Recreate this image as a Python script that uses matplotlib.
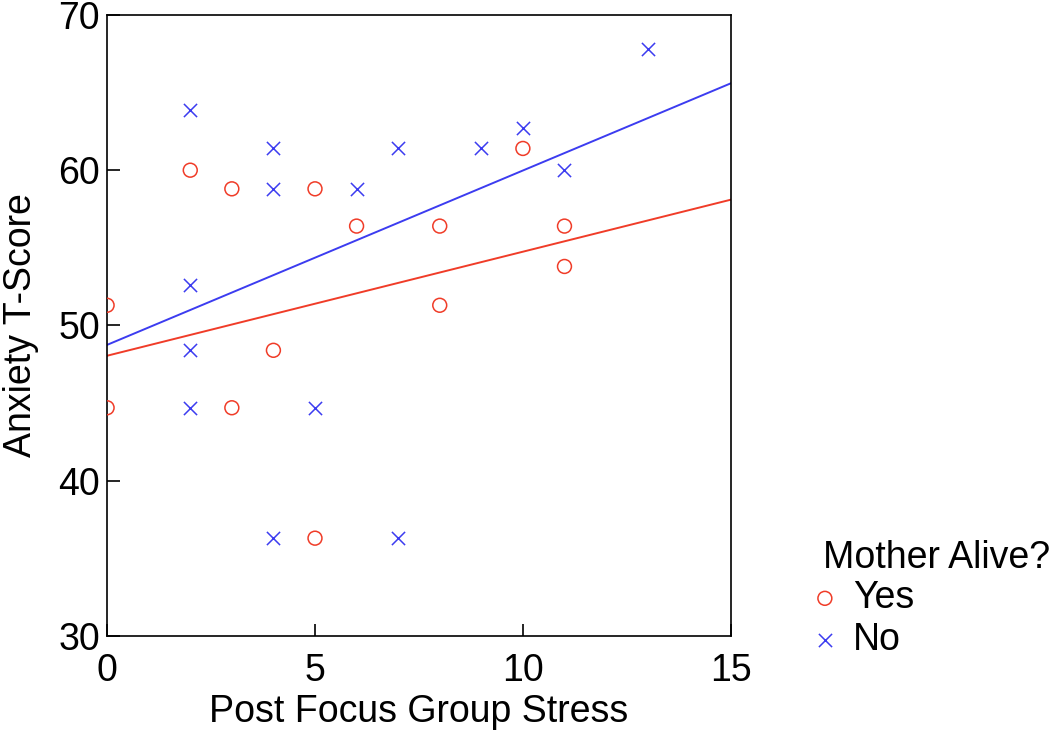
import matplotlib.pyplot as plt
import numpy as np

plt.rcParams['font.family'] = ['Liberation Sans', 'DejaVu Sans']

# Mother alive = Yes
yes_x = [0, 0, 2, 3, 3, 4, 5, 5, 6, 8, 8, 10, 11, 11]
yes_y = [51.3, 44.7, 60.0, 58.8, 44.7, 48.4, 58.8, 36.3, 56.4, 56.4, 51.3, 61.4, 56.4, 53.8]

# Mother alive = No
no_x = [2, 2, 2, 2, 4, 4, 4, 5, 6, 7, 7, 9, 10, 11, 13]
no_y = [63.9, 52.6, 48.4, 44.7, 61.4, 58.8, 36.3, 44.7, 58.8, 61.4, 36.3, 61.4, 62.7, 60.0, 67.8]

# fitted lines as shown in the chart (intercept, slope)
yes_fit = (48.05, 0.670)
no_fit = (48.75, 1.123)

red = '#f03c28'
blue = '#3c3cf0'

fig = plt.figure(figsize=(10.5, 7.35), dpi=100)
ax = fig.add_axes([0.102, 0.1347, 0.594, 0.845])

ax.scatter(yes_x, yes_y, s=100, facecolors='none', edgecolors=red, linewidths=1.1,
           marker='o', label='Yes', zorder=3)
ax.scatter(no_x, no_y, s=90, color=blue, linewidths=1.1, marker='x', label='No', zorder=3)

xs = np.array([0, 15])
ax.plot(xs, yes_fit[0] + yes_fit[1] * xs, color=red, linewidth=1.4)
ax.plot(xs, no_fit[0] + no_fit[1] * xs, color=blue, linewidth=1.4)

ax.set_xlim(0, 15)
ax.set_ylim(30, 70)
ax.set_xticks([0, 5, 10, 15])
ax.set_yticks([30, 40, 50, 60, 70])
ax.tick_params(direction='in', length=9, width=1.2, labelsize=27)
ax.tick_params(axis='y', pad=5)
ax.tick_params(axis='x', pad=12)
for s in ax.spines.values():
    s.set_linewidth(1.2)
ax.set_xlabel('Post Focus Group Stress', fontsize=27, labelpad=4)
ax.set_ylabel('Anxiety T-Score', fontsize=27, labelpad=14)

leg = fig.legend(title='Mother Alive?', loc='upper left',
                 bbox_to_anchor=(823 / 1050, 1 - 540 / 735),
                 frameon=False, fontsize=27, title_fontsize=27, handletextpad=0.7,
                 handlelength=0.1, labelspacing=0.15, borderaxespad=0, borderpad=0)
leg._legend_box.align = 'left'
leg._legend_box.sep = 3

fig.savefig('out.png', dpi=100)
